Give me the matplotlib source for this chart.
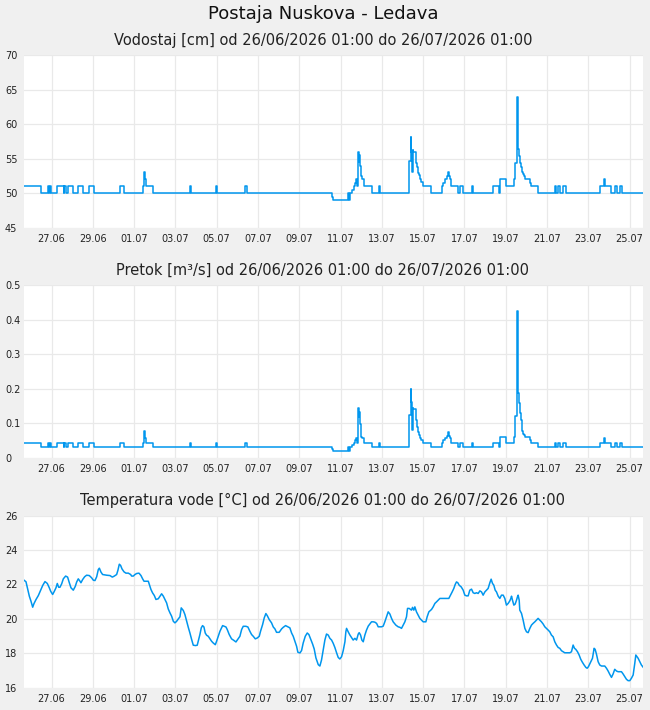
import numpy as np
import matplotlib
matplotlib.use("Agg")
import matplotlib.pyplot as plt

# ---------------- texts ----------------
station_title = "Postaja Nuskova - Ledava"
level_title = "Vodostaj [cm] od 26/06/2026 01:00 do 26/07/2026 01:00"
flow_title = "Pretok [m³/s] od 26/06/2026 01:00 do 26/07/2026 01:00"
temp_title = "Temperatura vode [°C] od 26/06/2026 01:00 do 26/07/2026 01:00"

# x axis: hours since 26/06/2026 01:00
tick_hours = [32, 80, 128, 176, 224, 272, 320, 368, 416, 464, 512, 560, 608, 656, 704]
tick_labels = ["27.06", "29.06", "01.07", "03.07", "05.07", "07.07", "09.07", "11.07",
               "13.07", "15.07", "17.07", "19.07", "21.07", "23.07", "25.07"]

level_ticks = [45, 50, 55, 60, 65, 70]
flow_ticks = [0, 0.1, 0.2, 0.3, 0.4, 0.5]
flow_tick_labels = ["0", "0.1", "0.2", "0.3", "0.4", "0.5"]
temp_ticks = [16, 18, 20, 22, 24, 26]

# ---------------- water level / discharge (change points, step series) -------
level_hours = [
    0.0, 19.4, 27.9, 29.4, 30.6, 31.8, 38.0, 46.0, 47.0, 49.0,
    51.5, 56.6, 63.2, 69.0, 75.9, 81.5, 112.0, 116.5, 137.8, 139.0,
    139.5, 140.3, 141.0, 142.0, 150.0, 192.9, 193.8, 223.0, 223.9, 257.3,
    258.8, 358.4, 359.6, 376.9, 378.0, 379.2, 381.6, 383.1, 384.7, 385.9,
    386.6, 387.8, 388.6, 389.3, 389.7, 390.5, 391.3, 392.0, 393.2, 395.1,
    404.1, 412.6, 414.1, 447.8, 449.4, 450.5, 451.3, 451.7, 452.5, 456.0,
    457.1, 457.9, 459.1, 460.2, 461.8, 464.1, 473.0, 485.4, 487.3, 489.3,
    491.2, 492.8, 493.9, 495.1, 496.6, 504.0, 506.7, 510.6, 521.0, 522.2,
    545.4, 552.0, 553.2, 560.9, 569.5, 571.4, 572.6, 573.3, 574.1, 574.9,
    575.7, 576.4, 577.6, 578.8, 579.9, 581.1, 582.3, 588.1, 590.0, 597.7,
    617.5, 618.7, 621.4, 622.9, 626.8, 629.9, 669.4, 674.1, 675.6, 683.0,
    687.2, 690.0, 692.7, 695.4, 720.0]
level_cm = [
    51, 50, 51, 50, 51, 50, 51, 50, 51, 50,
    51, 50, 51, 50, 51, 50, 51, 50, 51, 52,
    53, 52.5, 52, 51, 50, 51, 50, 51, 50, 51,
    50, 49.5, 49, 50, 49, 50, 50.5, 51, 51.5, 52,
    51, 52.5, 56, 54.5, 55.5, 54, 53, 52.5, 52, 51,
    50, 51, 50, 54.6, 58.1, 56, 53, 56.2, 56, 54.4,
    53.8, 52.9, 52.6, 52, 51.6, 51, 50, 51, 51.5, 52,
    52.5, 53, 52.5, 52, 51, 50, 51, 50, 51, 50,
    51, 50, 52, 51, 52, 54.4, 60.5, 63.9, 61, 56.4,
    55.4, 54.4, 53.8, 53.1, 52.8, 52.5, 52, 51.5, 51, 50,
    51, 50, 51, 50, 51, 50, 51, 52, 51, 50,
    51, 50, 51, 50, 50]
flow_m3s = [
    0.044, 0.032, 0.044, 0.032, 0.044, 0.032, 0.044, 0.032, 0.044, 0.032,
    0.044, 0.032, 0.044, 0.032, 0.044, 0.032, 0.044, 0.032, 0.044, 0.056,
    0.078, 0.064, 0.056, 0.044, 0.032, 0.044, 0.032, 0.044, 0.032, 0.044,
    0.032, 0.026, 0.020, 0.032, 0.020, 0.032, 0.038, 0.044, 0.050, 0.056,
    0.044, 0.070, 0.143, 0.119, 0.133, 0.097, 0.070, 0.061, 0.056, 0.044,
    0.032, 0.044, 0.032, 0.124, 0.200, 0.160, 0.080, 0.143, 0.140, 0.109,
    0.090, 0.075, 0.066, 0.058, 0.050, 0.044, 0.032, 0.044, 0.050, 0.056,
    0.063, 0.075, 0.063, 0.056, 0.044, 0.032, 0.044, 0.032, 0.044, 0.032,
    0.044, 0.032, 0.059, 0.044, 0.059, 0.120, 0.297, 0.425, 0.312, 0.186,
    0.157, 0.130, 0.109, 0.077, 0.070, 0.065, 0.059, 0.050, 0.044, 0.032,
    0.044, 0.032, 0.044, 0.032, 0.044, 0.032, 0.044, 0.056, 0.044, 0.032,
    0.044, 0.032, 0.044, 0.032, 0.032]

# ---------------- water temperature -----------------------------------------
temp_hours = [
    0.0, 2.3, 3.9, 6.2, 8.1, 10.1, 11.6, 14.0, 16.7, 19.4,
    21.7, 24.4, 27.1, 29.4, 31.0, 33.3, 35.3, 37.2, 38.7, 40.3,
    41.8, 43.8, 45.7, 48.4, 50.7, 52.7, 54.6, 57.3, 59.7, 61.2,
    63.1, 65.1, 66.2, 68.2, 70.5, 72.8, 75.9, 78.6, 80.6, 82.5,
    84.5, 86.4, 87.6, 89.5, 91.4, 96.1, 99.9, 102.7, 105.0, 107.7,
    109.2, 110.8, 112.3, 113.9, 116.2, 118.5, 121.3, 124.0, 125.1, 127.1,
    129.0, 131.0, 133.7, 136.0, 137.9, 139.5, 144.5, 145.7, 147.6, 149.5,
    151.5, 153.4, 156.1, 158.1, 160.0, 162.0, 163.9, 165.8, 167.7, 169.7,
    171.6, 173.6, 175.5, 177.4, 179.4, 181.3, 182.8, 185.2, 187.1, 189.1,
    191.0, 192.9, 194.9, 196.8, 199.5, 201.4, 203.0, 204.5, 206.1, 207.6,
    209.2, 210.7, 212.3, 214.2, 216.2, 218.1, 220.0, 222.4, 223.9, 225.9,
    227.8, 229.7, 230.9, 232.8, 234.8, 236.3, 238.6, 241.3, 243.7, 246.4,
    248.3, 251.0, 253.0, 254.9, 258.0, 260.3, 262.6, 264.6, 266.5, 268.9,
    271.2, 273.5, 275.0, 277.4, 279.3, 281.2, 282.8, 285.1, 287.8, 289.8,
    291.7, 293.6, 296.7, 299.5, 301.4, 304.1, 307.2, 309.1, 311.1, 313.0,
    315.0, 316.9, 318.4, 320.8, 322.7, 324.6, 327.0, 329.3, 331.2, 333.2,
    335.5, 337.4, 339.4, 342.1,
    344.0, 345.9, 347.9, 349.8, 351.7, 353.7, 355.6, 357.6, 359.5, 361.4,
    363.4, 365.3, 367.2, 369.2, 371.1, 373.1, 374.2, 375.0, 376.9, 378.9,
    380.8, 382.7, 384.7, 386.6, 388.6, 389.7, 391.3, 392.8, 394.4, 396.3,
    398.2, 400.2, 402.1, 404.0, 406.0, 407.9, 409.9, 411.8, 413.7, 415.7,
    417.6, 419.5, 421.5, 423.4, 425.4, 427.3, 429.2, 432.3, 435.0, 437.0,
    438.9, 440.9, 442.8, 444.7, 445.9, 447.8, 450.5, 451.7, 453.2, 454.4,
    456.3, 458.3, 460.2, 462.2, 464.1, 467.2, 468.7, 470.7, 473.8, 475.7,
    477.7, 479.6, 481.5, 483.5, 487.3, 491.2, 493.9, 495.9, 497.8, 499.7,
    501.3, 502.8, 504.4, 505.9, 508.3, 510.6, 512.5, 514.5, 516.4, 518.3,
    520.3, 522.2, 524.1, 526.1, 528.0, 530.0, 531.9, 533.8, 535.8, 537.7,
    539.6, 541.6, 543.1, 544.7, 546.2, 547.8, 549.3, 551.3, 553.2, 555.1,
    557.1, 559.0, 560.9, 562.9, 564.8, 566.0, 566.8, 567.9, 569.5, 571.0,
    572.6, 573.7, 574.5, 575.7, 576.4, 578.4, 580.3, 582.3, 584.2, 586.1,
    588.1, 590.0, 591.9, 593.9, 595.8, 597.7, 599.7, 601.6, 603.6, 605.5,
    607.4, 609.4, 611.3, 613.2, 615.2, 617.1, 619.1, 621.0, 622.9, 624.9,
    626.8, 628.7, 630.7, 634.6, 636.5, 638.4, 640.0, 641.5, 643.5, 645.4,
    647.3, 649.3, 651.2, 653.2, 654.7, 656.2, 658.6, 660.9, 662.8, 664.0,
    665.5, 667.5, 669.4, 671.4, 673.3, 675.2, 677.2, 679.1, 681.0, 683.0,
    684.9, 686.8, 688.8, 690.7, 694.6, 696.5, 698.5, 700.4, 702.3, 704.3,
    706.2, 708.2, 710.1, 711.3, 714.0, 715.9, 717.8, 720.0]
temp_c = [
    22.25, 22.16, 21.81, 21.32, 21.03, 20.68, 20.89, 21.13, 21.36, 21.67,
    21.94, 22.17, 22.06, 21.81, 21.61, 21.42, 21.61, 21.81, 22.06, 21.84,
    21.84, 22.04, 22.33, 22.49, 22.43, 22.10, 21.81, 21.67, 21.90, 22.14,
    22.33, 22.19, 22.10, 22.29, 22.45, 22.54, 22.52, 22.39, 22.25, 22.23,
    22.45, 22.87, 22.95, 22.72, 22.58, 22.54, 22.52, 22.43, 22.49, 22.58,
    22.83, 23.18, 23.11, 22.91, 22.74, 22.66, 22.66, 22.58, 22.49, 22.49,
    22.58, 22.64, 22.66, 22.52, 22.33, 22.19, 22.19, 22.00, 21.71, 21.51,
    21.36, 21.13, 21.17, 21.32, 21.46, 21.32, 21.13, 20.93, 20.58, 20.35,
    20.16, 19.86, 19.77, 19.86, 20.00, 20.12, 20.64, 20.49, 20.25, 19.86,
    19.51, 19.18, 18.80, 18.47, 18.45, 18.47, 18.80, 19.09, 19.48, 19.61,
    19.53, 19.18, 19.05, 18.99, 18.84, 18.70, 18.60, 18.50, 18.70, 18.99,
    19.28, 19.48, 19.61, 19.57, 19.53, 19.38, 19.09, 18.84, 18.76, 18.66,
    18.80, 18.99, 19.38, 19.57, 19.57, 19.53, 19.28, 19.09, 18.99, 18.84,
    18.89, 18.99, 19.28, 19.67, 20.06, 20.31, 20.19, 19.96, 19.77, 19.53,
    19.42, 19.22, 19.22, 19.42, 19.51, 19.61, 19.53, 19.48, 19.18, 18.99,
    18.70, 18.41, 18.06, 18.02, 18.16, 18.60, 18.99, 19.18, 19.09, 18.84,
    18.54, 18.25, 17.73, 17.34,
    17.26, 17.61, 18.19, 18.77, 19.12, 19.06, 18.87, 18.77, 18.58, 18.34,
    18.03, 17.76, 17.67, 17.80, 18.15, 18.67, 19.25, 19.45, 19.25, 19.06,
    18.92, 18.77, 18.87, 18.77, 19.12, 19.20, 19.06, 18.77, 18.67, 19.06,
    19.35, 19.58, 19.70, 19.83, 19.83, 19.81, 19.74, 19.54, 19.54, 19.54,
    19.58, 19.83, 20.12, 20.41, 20.28, 20.03, 19.83, 19.64, 19.54, 19.51,
    19.45, 19.64, 19.83, 20.12, 20.61, 20.61, 20.51, 20.67, 20.51, 20.70,
    20.41, 20.22, 20.03, 19.93, 19.83, 19.83, 20.12, 20.41, 20.55, 20.70,
    20.90, 20.99, 21.09, 21.19, 21.19, 21.19, 21.19, 21.38, 21.57, 21.77,
    22.00, 22.15, 22.10, 21.96, 21.86, 21.67, 21.38, 21.34, 21.34, 21.67,
    21.73, 21.52, 21.48, 21.52, 21.48, 21.63, 21.57, 21.38, 21.57, 21.67,
    21.77, 22.10, 22.31, 22.06, 21.96, 21.67, 21.57, 21.32, 21.19, 21.38,
    21.38, 21.19, 20.80, 20.90, 21.05, 21.19, 21.32, 21.09, 20.80, 20.86,
    21.09, 21.28, 21.38, 21.09, 20.51, 20.32, 19.93, 19.45, 19.25, 19.20,
    19.45, 19.64, 19.74, 19.83, 19.93, 20.03, 19.93, 19.83, 19.70, 19.54,
    19.45, 19.35, 19.25, 19.06, 18.96, 18.67, 18.48, 18.34, 18.29, 18.15,
    18.09, 18.03, 18.03, 18.03, 18.09, 18.48, 18.29, 18.23, 18.09, 17.90,
    17.65, 17.47, 17.32, 17.18, 17.13, 17.22, 17.47, 17.71, 18.29, 18.23,
    17.96, 17.51, 17.32, 17.26, 17.26, 17.26, 17.13, 16.97, 16.78, 16.60,
    16.80, 17.07, 16.97, 16.93, 16.93, 16.80, 16.64, 16.49, 16.41, 16.41,
    16.55, 16.74, 17.42, 17.90, 17.71, 17.51, 17.32, 17.18]

# ---------------- styling ----------------
BG = "#f0f0f0"
GRID = "#e9e9e9"
LINE = "#0096ee"
plt.rcParams["font.family"] = ["DejaVu Sans"]

W, H = 650, 710
fig = plt.figure(figsize=(W / 100, H / 100), dpi=100, facecolor=BG)


def add_axes(top_px, bottom_px, left_px=24, right_px=643.3):
    return fig.add_axes([left_px / W, 1 - bottom_px / H,
                         (right_px - left_px) / W, (bottom_px - top_px) / H])


def style(ax, yticks, ylabels, ylim):
    ax.set_facecolor("white")
    for s in ax.spines.values():
        s.set_visible(False)
    ax.set_xlim(0, 720)
    ax.set_ylim(*ylim)
    ax.set_xticks(tick_hours)
    ax.set_xticklabels(tick_labels)
    ax.set_yticks(yticks)
    ax.set_yticklabels(ylabels)
    ax.grid(True, color=GRID, linewidth=0.9)
    ax.set_axisbelow(True)
    ax.tick_params(axis="both", length=0, labelsize=7, colors="#222222")
    ax.tick_params(axis="x", pad=4.5)
    ax.tick_params(axis="y", pad=13.7)
    for lab in ax.get_yticklabels():
        lab.set_horizontalalignment("left")


ax1 = add_axes(55, 227.7)
ax2 = add_axes(285, 457.7)
ax3 = add_axes(515.7, 687.7)

ax1.plot(level_hours, level_cm, drawstyle="steps-post", color=LINE, lw=1.1)
ax2.plot(level_hours, flow_m3s, drawstyle="steps-post", color=LINE, lw=1.1)
ax3.plot(temp_hours, temp_c, color=LINE, lw=1.1)

style(ax1, level_ticks, [str(v) for v in level_ticks], (45, 70))
style(ax2, flow_ticks, flow_tick_labels, (0, 0.5))
style(ax3, temp_ticks, [str(v) for v in temp_ticks], (16, 26))

cx = 323 / W
fig.text(cx, 1 - 14 / H, station_title, ha="center", va="center", fontsize=13, color="#111111")
fig.text(cx, 1 - 40 / H, level_title, ha="center", va="center", fontsize=10.5, color="#222222")
fig.text(cx, 1 - 270 / H, flow_title, ha="center", va="center", fontsize=10.5, color="#222222")
fig.text(cx, 1 - 500 / H, temp_title, ha="center", va="center", fontsize=10.5, color="#222222")

fig.savefig("out.png", dpi=100, facecolor=BG)
